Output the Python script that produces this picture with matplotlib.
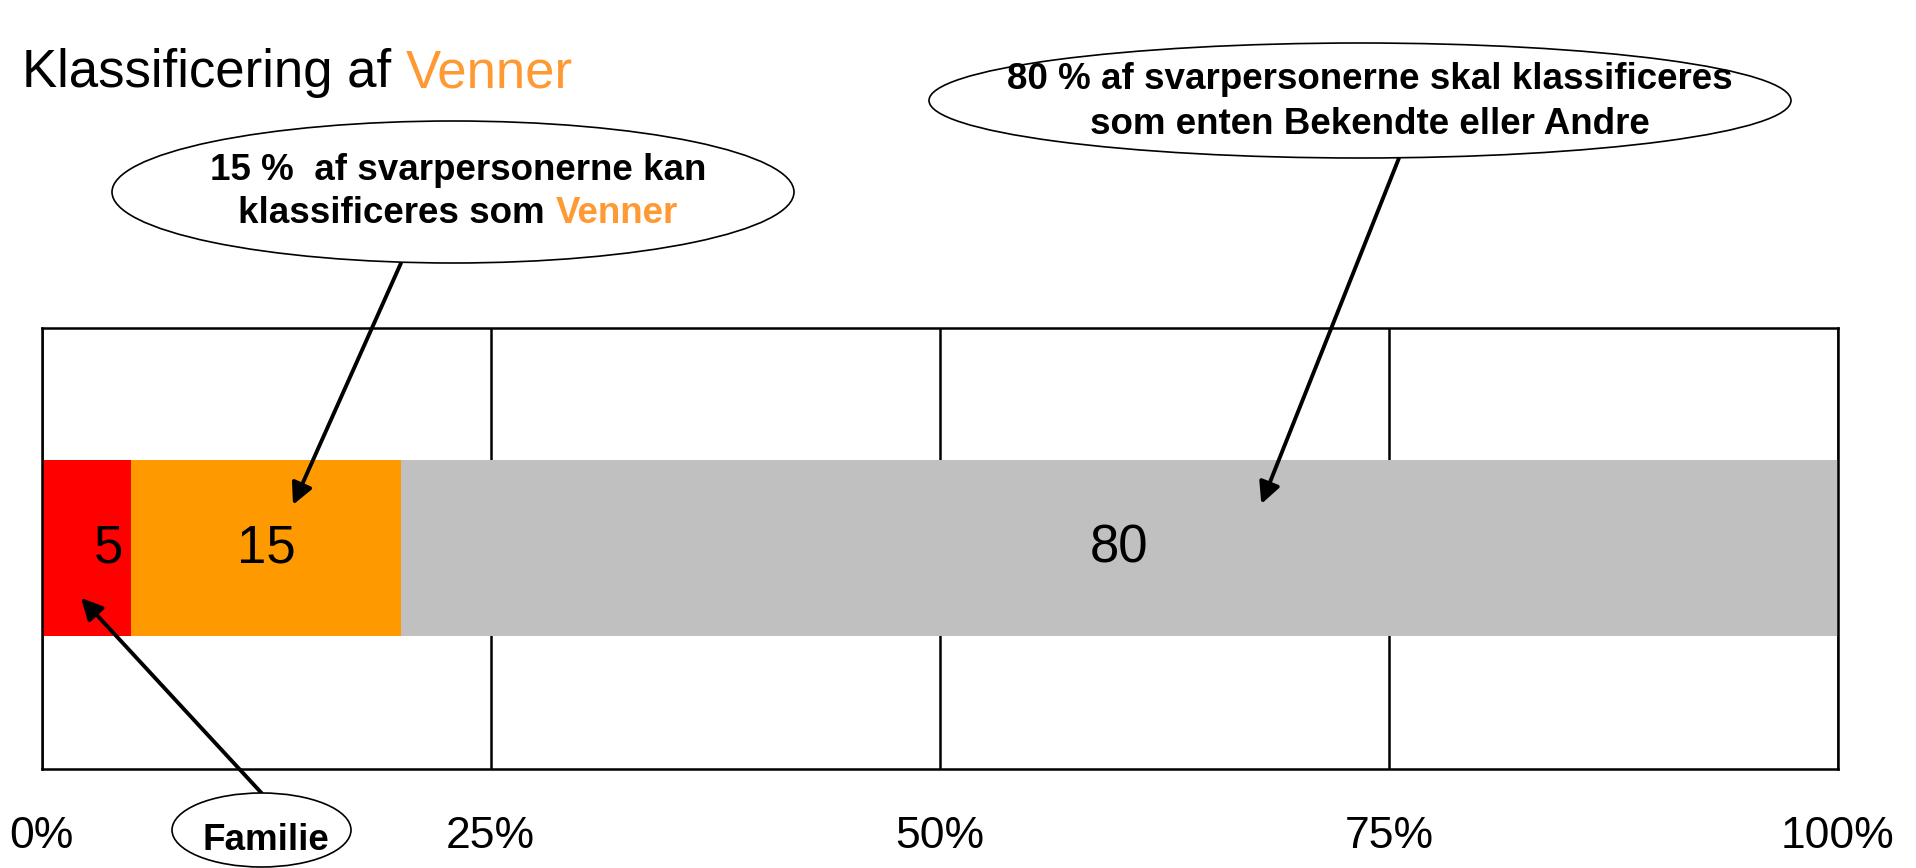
import matplotlib
matplotlib.use("Agg")
import matplotlib.pyplot as plt
from matplotlib.patches import Ellipse

plt.rcParams['font.family'] = ['Liberation Sans', 'DejaVu Sans']

# data
categories = ["Familie", "Venner", "Bekendte eller Andre"]
values = [5, 15, 80]
colors = ["#FF0000", "#FF9900", "#C0C0C0"]
tick_pos = [0, 25, 50, 75, 100]
tick_labels = ["0%", "25%", "50%", "75%", "100%"]

W, H = 1916, 868
ORANGE = "#FF9933"


def fx(px):
    return px / W


def fy(py):
    return 1 - py / H


fig = plt.figure(figsize=(W / 100, H / 100), dpi=100)
ax = fig.add_axes([fx(41.5), fy(768.6), fx(1838) - fx(41.5), fy(327.5) - fy(768.6)])

lefts = [sum(values[:i]) for i in range(len(values))]
bars = ax.barh(0.5, values, left=lefts, height=0.4, color=colors, zorder=2)
labels = ax.bar_label(bars, labels=[str(v) for v in values], label_type='center', fontsize=38)
# the narrow first segment has its number nudged right, as in the original
labels[0].set_position((16, 0))

ax.set_xlim(0, 100)
ax.set_ylim(0, 1)
ax.set_yticks([])
ax.set_xticks(tick_pos)
ax.set_xticklabels(tick_labels)
ax.tick_params(axis='x', length=0, pad=34, labelsize=32)
ax.xaxis.grid(True, color='black', lw=1.8, zorder=1)
ax.set_axisbelow(True)
for sp in ax.spines.values():
    sp.set_linewidth(1.8)
    sp.set_color('black')

renderer = fig.canvas.get_renderer()


def two_color_line(cx, base_y, black_txt, orange_txt, size, weight):
    t1 = fig.text(0, fy(base_y), black_txt, fontsize=size, fontweight=weight,
                  va='baseline', ha='left')
    t2 = fig.text(0, fy(base_y), orange_txt, fontsize=size, fontweight=weight,
                  va='baseline', ha='left', color=ORANGE)
    w1 = t1.get_window_extent(renderer).width
    w2 = t2.get_window_extent(renderer).width
    x0 = cx - (w1 + w2) / 2
    t1.set_x(fx(x0))
    t2.set_x(fx(x0 + w1))
    return t1, t2


# subtitle
st = fig.text(fx(22), fy(87), "Klassificering af ", fontsize=38, va='baseline', ha='left')
w_st = st.get_window_extent(renderer).width
fig.text(fx(22 + w_st), fy(87), "Venner", fontsize=38, va='baseline', ha='left', color=ORANGE)

# callout ellipses
ell_kw = dict(transform=fig.transFigure, facecolor='white', edgecolor='black', lw=1.2)
fig.add_artist(Ellipse((fx(453), fy(192)), 682 / W, 142 / H, **ell_kw))
fig.add_artist(Ellipse((fx(1360), fy(100.5)), 862 / W, 115 / H, **ell_kw))
fig.add_artist(Ellipse((fx(261.5), fy(830)), 179 / W, 74 / H, **ell_kw))

fig.text(fx(458), fy(180), "15 %  af svarpersonerne kan", fontsize=26.5, fontweight='bold',
         ha='center', va='baseline')
two_color_line(458, 223, "klassificeres som ", "Venner", 26.5, 'bold')

fig.text(fx(1370), fy(89), "80 % af svarpersonerne skal klassificeres", fontsize=26.5,
         fontweight='bold', ha='center', va='baseline')
fig.text(fx(1370), fy(134), "som enten Bekendte eller Andre", fontsize=26.5,
         fontweight='bold', ha='center', va='baseline')

fig.text(fx(266), fy(850), "Familie", fontsize=26.5, fontweight='bold', ha='center', va='baseline')

# arrows
arrow_kw = dict(arrowstyle='-|>', color='black', lw=2.8, mutation_scale=32, shrinkA=0, shrinkB=0)
ax.annotate('', xy=(14.0, 0.598), xycoords='data',
            xytext=(fx(401), fy(263)), textcoords='figure fraction', arrowprops=arrow_kw)
ax.annotate('', xy=(67.9, 0.60), xycoords='data',
            xytext=(fx(1399), fy(158)), textcoords='figure fraction', arrowprops=arrow_kw)
ax.annotate('', xy=(2.2, 0.387), xycoords='data',
            xytext=(fx(261.5), fy(793)), textcoords='figure fraction', arrowprops=arrow_kw)

fig.savefig("out.png", dpi=100)
